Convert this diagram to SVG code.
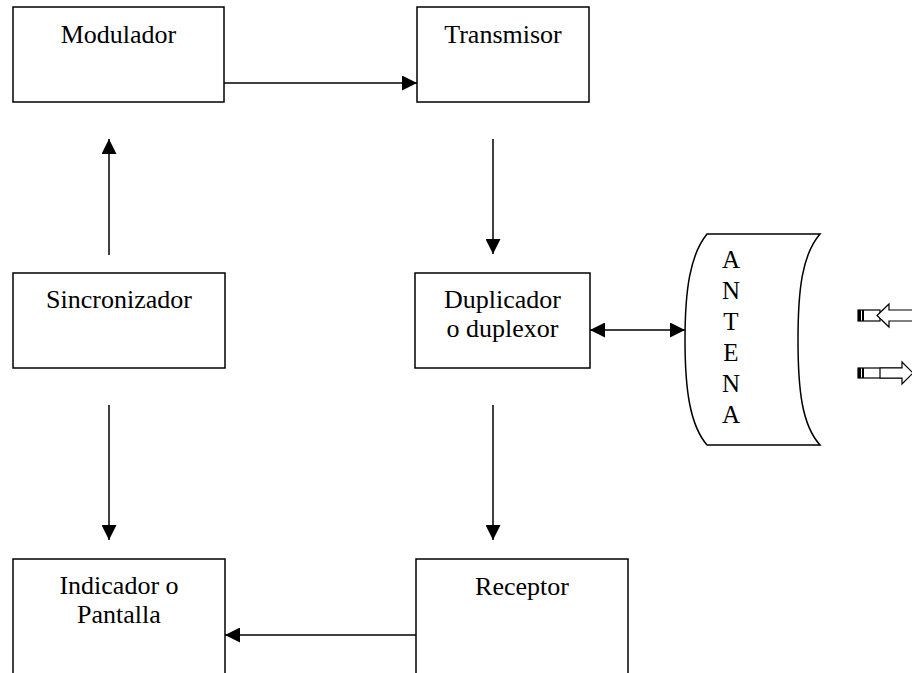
<svg xmlns="http://www.w3.org/2000/svg" width="912" height="673" viewBox="0 0 912 673">
<style>
.box{fill:#fff;stroke:#000;stroke-width:1.5}
.lbl{font-family:"Liberation Serif","Times New Roman",serif;font-size:26px;fill:#000;text-anchor:middle}
.ant{font-family:"Liberation Serif","Times New Roman",serif;font-size:25px;fill:#000;text-anchor:middle}
.con{stroke:#000;stroke-width:1.5;fill:none}
.blk{fill:#fff;stroke:#000;stroke-width:1.2}
</style>
<defs>
<marker id="ah" markerUnits="userSpaceOnUse" markerWidth="15" markerHeight="15" refX="15" refY="7.5" orient="auto-start-reverse" viewBox="0 0 15 15">
<path d="M0,0 L15,7.5 L0,15 z" fill="#000"/>
</marker>
</defs>
<rect width="912" height="673" fill="#fff"/>
<g id="modulador">
<rect class="box" x="13" y="7" width="211" height="95"/>
<text class="lbl" x="118.5" y="43">Modulador</text>
</g>
<g id="transmisor">
<rect class="box" x="417" y="7" width="172" height="95"/>
<text class="lbl" x="503" y="43">Transmisor</text>
</g>
<g id="sincronizador">
<rect class="box" x="13" y="273" width="212" height="95"/>
<text class="lbl" x="119" y="308">Sincronizador</text>
</g>
<g id="duplicador">
<rect class="box" x="415" y="273" width="175" height="95"/>
<text class="lbl" x="502.5" y="308">Duplicador</text>
<text class="lbl" x="502.5" y="337">o duplexor</text>
</g>
<g id="indicador">
<rect class="box" x="13" y="559" width="212" height="130"/>
<text class="lbl" x="119" y="594">Indicador o</text>
<text class="lbl" x="119" y="623">Pantalla</text>
</g>
<g id="receptor">
<rect class="box" x="416" y="559" width="212" height="130"/>
<text class="lbl" x="522" y="595">Receptor</text>
</g>
<g id="antena">
<path class="box" d="M707,234 L820,234 C802,255 798,290 798,340 C798,390 802,425 820,445 L707,445 C690,425 685,390 685,340 C685,290 690,255 707,234 Z"/>
<text class="ant" x="731" y="268">A</text>
<text class="ant" x="731" y="299">N</text>
<text class="ant" x="731" y="330">T</text>
<text class="ant" x="731" y="361">E</text>
<text class="ant" x="731" y="392">N</text>
<text class="ant" x="731" y="423">A</text>
</g>
<g id="ondas">
<rect class="blk" x="858" y="310" width="22" height="11"/>
<rect x="858" y="310" width="3" height="11" fill="#000"/>
<rect x="862" y="310" width="2" height="11" fill="#000"/>
<polygon class="blk" points="877,315.5 889,304 889,310 915,310 915,321 889,321 889,327"/>
<rect class="blk" x="858" y="368" width="46" height="10"/>
<rect x="858" y="368" width="3" height="10" fill="#000"/>
<rect x="862" y="368" width="2" height="10" fill="#000"/>
<polygon class="blk" points="902,362 913,373 902,384 902,378 880,378 880,368 902,368"/>
</g>
<g id="connectors">
<line class="con" x1="224" y1="83" x2="417" y2="83" marker-end="url(#ah)"/>
<line class="con" x1="493" y1="139" x2="493" y2="254" marker-end="url(#ah)"/>
<line class="con" x1="109" y1="255" x2="109" y2="139" marker-end="url(#ah)"/>
<line class="con" x1="109" y1="405" x2="109" y2="540" marker-end="url(#ah)"/>
<line class="con" x1="493" y1="405" x2="493" y2="540" marker-end="url(#ah)"/>
<line class="con" x1="590" y1="330" x2="685" y2="330" marker-start="url(#ah)" marker-end="url(#ah)"/>
<line class="con" x1="416" y1="635" x2="225" y2="635" marker-end="url(#ah)"/>
</g>
</svg>
